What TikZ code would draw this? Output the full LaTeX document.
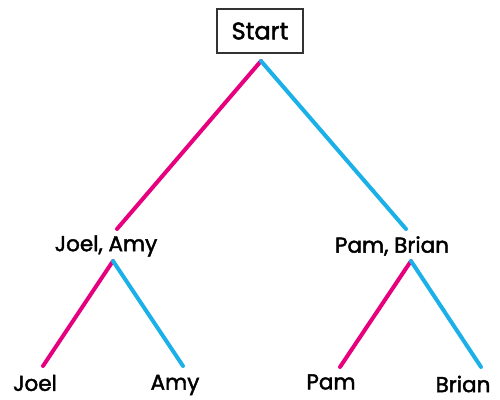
\documentclass[tikz,border=0pt]{standalone}
\usepackage{fontspec}
\setmainfont{Poppins}
\definecolor{pinkline}{HTML}{E6007E}
\definecolor{blueline}{HTML}{1BB0E8}
\definecolor{boxgray}{HTML}{333333}
\begin{document}
\begin{tikzpicture}[x=1pt,y=-1pt,
  lbl/.style={font=\fontsize{21.5}{24}\selectfont\addfontfeature{FakeBold=2}, inner sep=0pt, anchor=center},
  startbox/.style={draw=boxgray, line width=2pt, minimum width=86pt, minimum height=44pt, inner sep=0pt, font=\fontsize{24}{26}\selectfont\addfontfeature{FakeBold=2}},
  pinkbr/.style={draw=pinkline, line width=4pt, line cap=round},
  bluebr/.style={draw=blueline, line width=4pt, line cap=round}]
\useasboundingbox (0,0) rectangle (500,399);
% nodes
\node[startbox] (start) at (260,31) {Start};
\node[lbl] (ja) at (106,246) {Joel, Amy};
\node[lbl] (pb) at (392,246) {Pam, Brian};
\node[lbl] (joel) at (35,383) {Joel};
\node[lbl] (amy) at (175,385) {Amy};
\node[lbl] (pam) at (331,382) {Pam};
\node[lbl] (brian) at (463,384) {Brian};
% branch points
\coordinate (sroot) at (261,61);
\coordinate (jatop) at (117,229);
\coordinate (pbtop) at (406,229);
\coordinate (jaroot) at (113,261);
\coordinate (pbroot) at (411,261);
\coordinate (joeltop) at (43,366);
\coordinate (amytop) at (183,366);
\coordinate (pamtop) at (340,367);
\coordinate (briantop) at (481,367);
% connectors
\draw[pinkbr] (sroot) -- (jatop);
\draw[bluebr] (sroot) -- (pbtop);
\draw[pinkbr] (jaroot) -- (joeltop);
\draw[bluebr] (jaroot) -- (amytop);
\draw[pinkbr] (pbroot) -- (pamtop);
\draw[bluebr] (pbroot) -- (briantop);
\end{tikzpicture}
\end{document}
